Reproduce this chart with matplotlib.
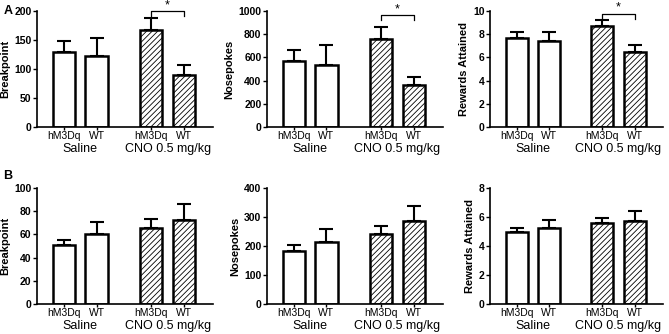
import matplotlib.pyplot as plt
import matplotlib as mpl

mpl.rcParams['font.family'] = ['Liberation Sans', 'DejaVu Sans']
mpl.rcParams['hatch.color'] = '#555555'
mpl.rcParams['hatch.linewidth'] = 0.6

groups = ['hM3Dq', 'WT', 'hM3Dq', 'WT']
conditions = ['Saline', 'CNO 0.5 mg/kg']

# top row (A)
a_break = [130, 123, 168, 90]
a_break_err = [19, 30, 20, 16]
a_nose = [570, 535, 760, 360]
a_nose_err = [95, 175, 105, 70]
a_rew = [7.7, 7.4, 8.7, 6.5]
a_rew_err = [0.5, 0.8, 0.55, 0.6]

# bottom row (B)
b_break = [50.5, 60, 65.5, 72.5]
b_break_err = [5, 11, 7.5, 13.5]
b_nose = [182, 215, 240, 285]
b_nose_err = [22, 45, 30, 53]
b_rew = [5.0, 5.25, 5.6, 5.75]
b_rew_err = [0.25, 0.55, 0.3, 0.65]

xpos = [0, 1, 2.67, 3.7]

panels = [
    # vals, errs, ylabel, ymax, ytick step, bracket y
    (a_break, a_break_err, 'Breakpoint', 200, 50, 200),
    (a_nose, a_nose_err, 'Nosepokes', 1000, 200, 965),
    (a_rew, a_rew_err, 'Rewards Attained', 10, 2, 9.75),
    (b_break, b_break_err, 'Breakpoint', 100, 20, None),
    (b_nose, b_nose_err, 'Nosepokes', 400, 100, None),
    (b_rew, b_rew_err, 'Rewards Attained', 8, 2, None),
]

fig = plt.figure(figsize=(6.69, 3.34), dpi=100)
lefts = [0.0553, 0.399, 0.733]
widths = [0.263, 0.263, 0.258]
bottoms = [0.62, 0.09]
height = 0.347

for i, (vals, errs, ylab, ymax, step, bry) in enumerate(panels):
    row, col = divmod(i, 3)
    ax = fig.add_axes([lefts[col], bottoms[row], widths[col], height])
    for j in range(4):
        hatch = '//////' if j >= 2 else None
        ax.bar(xpos[j], vals[j], width=0.68, color='white', edgecolor='black',
               linewidth=1.8, hatch=hatch, zorder=2)
        ax.errorbar(xpos[j], vals[j], yerr=[[0], [errs[j]]], fmt='none',
                    ecolor='black', elinewidth=1.5, capsize=5, capthick=1.5, zorder=1)
    ax.set_xlim(-0.83, 4.58)
    ax.set_ylim(0, ymax)
    ax.set_yticks([k * step for k in range(int(round(ymax / step)) + 1)])
    ax.set_xticks(xpos)
    ax.set_xticklabels(groups, fontsize=7.5)
    ax.tick_params(axis='x', length=2, width=1, pad=1)
    ax.tick_params(axis='y', length=3, width=1, pad=1, labelsize=7.5)
    for lbl in ax.get_yticklabels():
        lbl.set_fontweight('bold')
    ax.spines['top'].set_visible(False)
    ax.spines['right'].set_visible(False)
    ax.spines['left'].set_linewidth(1.2)
    ax.spines['bottom'].set_linewidth(1.2)
    ax.set_ylabel(ylab, fontsize=8, fontweight='bold', labelpad=3)
    ax.text((xpos[0] + xpos[1]) / 2, -0.135, conditions[0], fontsize=9,
            ha='center', va='top', transform=ax.get_xaxis_transform())
    ax.text((xpos[2] + xpos[3]) / 2, -0.135, conditions[1], fontsize=9,
            ha='center', va='top', transform=ax.get_xaxis_transform())
    if bry is not None:
        d = ymax * 0.04
        ax.plot([xpos[2], xpos[2], xpos[3], xpos[3]], [bry - d, bry, bry, bry - d],
                color='black', linewidth=0.9, clip_on=False)
        ax.text((xpos[2] + xpos[3]) / 2, bry, '*', fontsize=9, ha='center',
                va='bottom', clip_on=False)

fig.text(0.005, 0.985, 'A', fontsize=9, fontweight='bold', va='top')
fig.text(0.005, 0.49, 'B', fontsize=9, fontweight='bold', va='top')

fig.savefig('out.png', dpi=100)
